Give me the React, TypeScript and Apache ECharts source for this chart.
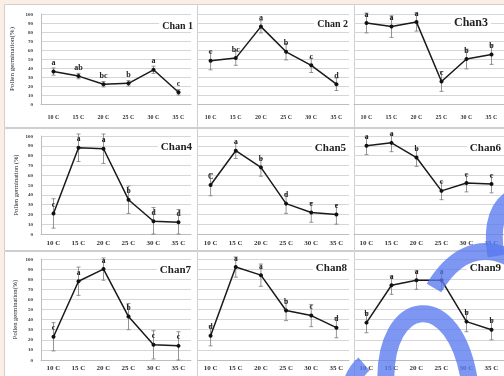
import React, { useEffect, useRef } from "react";
import * as echarts from "echarts";

// Temperature treatments (x categories)
const temps = ["10 C", "15 C", "20 C", "25 C", "30 C", "35 C"];
const yTicks = { min: 0, max: 100, interval: 10 };

// Mean pollen germination (%) per cultivar
const chan1 = [36, 31, 22, 23, 38, 13];
const chan2 = [48, 51, 86, 58, 43, 22];
const chan3 = [90, 86, 91, 25, 50, 55];
const chan4 = [21, 88, 87, 35, 13, 12];
const chan5 = [50, 85, 68, 31, 22, 20];
const chan6 = [90, 93, 78, 44, 52, 51];
const chan7 = [23, 78, 90, 43, 15, 14];
const chan8 = [24, 92, 84, 49, 44, 32];
const chan9 = [37, 74, 79, 79, 38, 30];

// Standard deviation (error bar half-length)
const err1 = [4, 3, 3, 3, 4, 3];
const err2 = [10, 8, 7, 9, 8, 7];
const err3 = [11, 12, 10, 11, 11, 11];
const err4 = [15, 14, 15, 14, 14, 13];
const err5 = [11, 8, 9, 10, 10, 10];
const err6 = [9, 9, 9, 9, 9, 9];
const err7 = [14, 14, 11, 13, 14, 14];
const err8 = [10, 10, 11, 10, 11, 10];
const err9 = [10, 9, 9, 9, 10, 10];

// Significance letters
const let1 = ["a", "ab", "bc", "b", "a", "c"];
const let2 = ["c", "bc", "a", "b", "c", "d"];
const let3 = ["a", "a", "a", "c", "b", "b"];
const let4 = ["c", "a", "a", "b", "d", "d"];
const let5 = ["C", "a", "b", "d", "e", "e"];
const let6 = ["a", "a", "b", "c", "c", "c"];
const let7 = ["c", "a", "a", "b", "c", "c"];
const let8 = ["d", "a", "a", "b", "c", "d"];
const let9 = ["b", "a", "a", "a", "b", "b"];

const names = ["Chan 1", "Chan 2", "Chan3", "Chan4", "Chan5", "Chan6", "Chan7", "Chan8", "Chan9"];
const yNames = ["Pollen germination(%)", "Pollen germination (%)", "Pollen germination(%)"];

const SERIF = "'Liberation Serif', 'DejaVu Serif', serif";

const panelsData = [
  [chan1, err1, let1], [chan2, err2, let2], [chan3, err3, let3],
  [chan4, err4, let4], [chan5, err5, let5], [chan6, err6, let6],
  [chan7, err7, let7], [chan8, err8, let8], [chan9, err9, let9],
] as [number[], number[], string[]][];

// layout
const rowGrid = [
  { top: 14, height: 90, labelSize: 6, labelMargin: 10, nameGap: 26, nameSize: 7, letterSize: 8 },
  { top: 136, height: 98, labelSize: 7, labelMargin: 5, nameGap: 22, nameSize: 6.5, letterSize: 7.5 },
  { top: 259, height: 101, labelSize: 7, labelMargin: 4, nameGap: 23, nameSize: 6.5, letterSize: 7.5 },
];
const colGrid = [
  { left: 41, width: 150 },
  { left: 198, width: 151 },
  { left: 354, width: 150 },
];
const rowPanel = [
  { y: 4.5, h: 123 },
  { y: 128.5, h: 122 },
  { y: 251.5, h: 126 },
];
const colPanel = [
  { x: 4.5, w: 193 },
  { x: 197.5, w: 157 },
  { x: 354.5, w: 151 },
];
const titlePos = [
  { right: 308, top: 19, size: 10 },
  { right: 153, top: 17, size: 10 },
  { right: 13, top: 15, size: 12 },
  { right: 309, top: 139, size: 11 },
  { right: 155, top: 140, size: 11 },
  { right: 0, top: 140, size: 11 },
  { right: 310, top: 262, size: 11 },
  { right: 154, top: 260, size: 11 },
  { right: 0, top: 260, size: 11 },
];

const INK = "#222222";

function buildOption() {
  const grid: any[] = [];
  const xAxis: any[] = [];
  const yAxis: any[] = [];
  const series: any[] = [];
  const title: any[] = [];
  const graphic: any[] = [];

  for (let r = 0; r < 3; r++) {
    for (let c = 0; c < 3; c++) {
      const p = colPanel[c];
      const q = rowPanel[r];
      graphic.push({
        type: "rect",
        z: -10,
        silent: true,
        shape: { x: p.x, y: q.y, width: p.w, height: q.h },
        style: { fill: "#ffffff", stroke: "#cfcfcf", lineWidth: 1 },
      });
    }
  }

  for (let k = 0; k < 9; k++) {
    const r = Math.floor(k / 3);
    const c = k % 3;
    const rg = rowGrid[r];
    const cg = colGrid[c];
    const [vals, errs, letters] = panelsData[k];
    grid.push({ left: cg.left, width: cg.width, top: rg.top, height: rg.height });
    xAxis.push({
      type: "category",
      gridIndex: k,
      data: temps,
      boundaryGap: true,
      axisLine: { show: true, lineStyle: { color: "#bdbdbd", width: 1 } },
      axisTick: { show: false },
      axisLabel: {
        fontFamily: SERIF,
        fontWeight: "bold",
        fontSize: rg.labelSize,
        color: "#333",
        margin: rg.labelMargin,
        interval: 0,
      },
    });
    yAxis.push({
      type: "value",
      gridIndex: k,
      min: yTicks.min,
      max: yTicks.max,
      interval: yTicks.interval,
      name: c === 0 ? yNames[r] : "",
      nameLocation: "middle",
      nameRotate: 90,
      nameGap: rg.nameGap,
      nameTextStyle: { fontFamily: SERIF, fontSize: rg.nameSize, color: INK },
      axisLine: { show: c === 0, lineStyle: { color: "#bdbdbd", width: 1 } },
      axisTick: { show: false },
      axisLabel: {
        show: c === 0,
        fontFamily: SERIF,
        fontWeight: "bold",
        fontSize: 5,
        color: "#333",
        margin: 8,
      },
      splitLine: { show: true, lineStyle: { color: "#d6d6d6", width: 1 } },
    });
    // error bars plus significance letters above each mean
    const letterFont = `bold ${rg.letterSize}px ${SERIF}`;
    series.push({
      type: "custom",
      xAxisIndex: k,
      yAxisIndex: k,
      z: 2,
      silent: true,
      data: vals.map((v, i) => [i, v, errs[i]]),
      encode: { x: 0, y: 1 },
      renderItem: (params: any, api: any) => {
        const i = api.value(0);
        const m = api.value(1);
        const e = api.value(2);
        const pt = api.coord([i, m]);
        const top = api.coord([i, m + e]);
        const bot = api.coord([i, Math.max(0, m - e)]);
        const w = 2;
        const style = { stroke: "#7a7a7a", lineWidth: 0.8 };
        return {
          type: "group",
          children: [
            { type: "line", shape: { x1: top[0], y1: top[1], x2: bot[0], y2: bot[1] }, style },
            { type: "line", shape: { x1: top[0] - w, y1: top[1], x2: top[0] + w, y2: top[1] }, style },
            { type: "line", shape: { x1: bot[0] - w, y1: bot[1], x2: bot[0] + w, y2: bot[1] }, style },
            {
              type: "text",
              x: pt[0],
              y: pt[1] - 5,
              z2: 50,
              style: {
                text: letters[params.dataIndex],
                fill: INK,
                font: letterFont,
                align: "center",
                verticalAlign: "bottom",
              },
            },
          ],
        };
      },
    });
    series.push({
      type: "line",
      name: names[k],
      xAxisIndex: k,
      yAxisIndex: k,
      z: 3,
      data: vals,
      symbol: "circle",
      symbolSize: 4,
      itemStyle: { color: "#111111" },
      lineStyle: { color: "#1a1a1a", width: 1.5 },
    });
    const tp = titlePos[k];
    title.push({
      text: names[k],
      right: tp.right,
      top: tp.top,
      padding: [1, 3],
      backgroundColor: "#ffffff",
      textStyle: { fontFamily: SERIF, fontWeight: "bold", fontSize: tp.size, color: INK },
    });
  }

  // translucent blue watermark strokes
  const wm = { stroke: "rgba(88, 122, 240, 0.78)", lineWidth: 17, fill: "none" };
  graphic.push(
    {
      type: "bezierCurve",
      z: 100,
      silent: true,
      shape: { x1: 386, y1: 385, cpx1: 382, cpy1: 296, cpx2: 456, cpy2: 284, x2: 470, y2: 385 },
      style: wm,
    },
    {
      type: "bezierCurve",
      z: 100,
      silent: true,
      shape: { x1: 434, y1: 288, cpx1: 452, cpy1: 258, cpx2: 478, cpy2: 242, x2: 510, y2: 258 },
      style: wm,
    },
    {
      type: "bezierCurve",
      z: 100,
      silent: true,
      shape: { x1: 512, y1: 198, cpx1: 492, cpy1: 210, cpx2: 493, cpy2: 238, x2: 496, y2: 256 },
      style: wm,
    },
    {
      type: "bezierCurve",
      z: 100,
      silent: true,
      shape: { x1: 352, y1: 382, cpx1: 354, cpy1: 376, cpx2: 357, cpy2: 370, x2: 364, y2: 364 },
      style: wm,
    }
  );

  return {
    animation: false,
    backgroundColor: "#fbeee4",
    title,
    grid,
    xAxis,
    yAxis,
    series,
    graphic,
  };
}

export default function App() {
  const ref = useRef<HTMLDivElement>(null);
  useEffect(() => {
    if (!ref.current) return;
    const chart = echarts.init(ref.current, undefined, { renderer: "svg" });
    chart.setOption(buildOption() as any);
    return () => chart.dispose();
  }, []);
  return (
    <div
      ref={ref}
      style={{
        position: "absolute",
        left: 0,
        top: 0,
        width: 504,
        height: 376,
        willChange: "transform",
      }}
    />
  );
}
